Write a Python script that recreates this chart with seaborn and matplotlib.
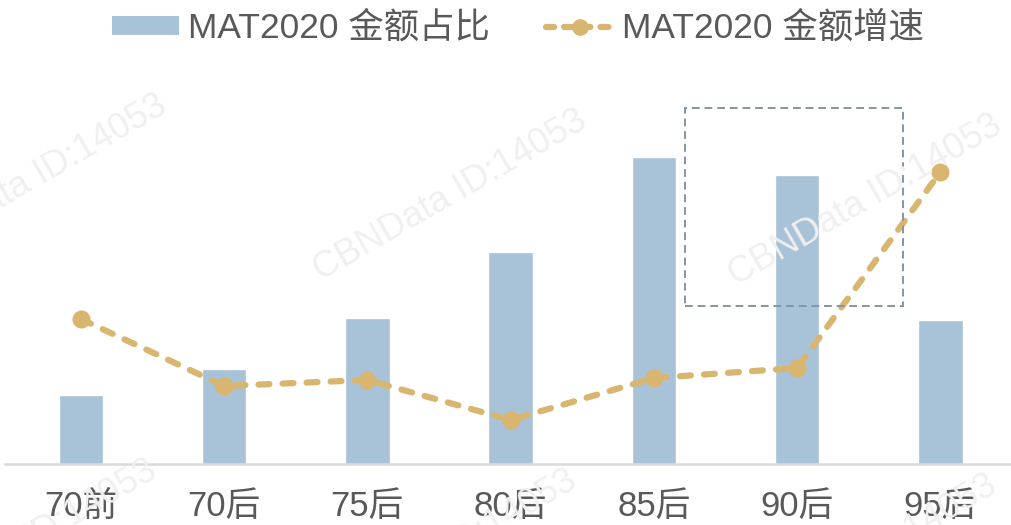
import numpy as np
import pandas as pd
import matplotlib
matplotlib.use('Agg')
import matplotlib.pyplot as plt
import seaborn as sns
from matplotlib.patches import Rectangle, Patch
from matplotlib.lines import Line2D

# 데이터 (그림에서 읽은 값, y축 눈금이 없어서 상대값)
groups = ['70前', '70后', '75后', '80后', '85后', '90后', '95后']
share = [69, 95, 146, 212, 307, 289, 144]      # MAT2020 金额占比
growth = [145, 78, 84, 44, 86, 96, 292]        # MAT2020 金额增速

bar_color = '#a8c2d8'
line_color = '#d9b66f'
text_color = '#595959'

sns.set_theme(style='white')
plt.rcParams['font.family'] = ['Liberation Sans', 'Noto Sans CJK SC', 'DejaVu Sans']

df = pd.DataFrame({'group': groups, 'share': share, 'growth': growth})

fig = plt.figure(figsize=(10.12, 5.25), dpi=100)
ax = fig.add_axes([5 / 1012, 61 / 525, 1007 / 1012, 404 / 525])

# 워터마크 (흐리게)
for x, y in [(30, 180), (450, 195), (865, 200), (20, 545), (440, 555), (860, 560)]:
    fig.text(x / 1012, 1 - y / 525, 'CBNData ID:14053', rotation=30, fontsize=26,
             color='#f0f0f0', ha='center', va='center', zorder=0)

# 막대
sns.barplot(data=df, x='group', y='share', color=bar_color, width=0.31,
            saturation=1, ax=ax, zorder=2)

# 점선 + 점
sns.pointplot(data=df, x='group', y='growth', color=line_color, errorbar=None,
              marker='o', ax=ax, zorder=3)
# pointplot 선 찾아서 스타일 바꾸기 (ax.lines[-1] 은 안 먹힘)
for ln in ax.lines:
    if len(ln.get_xdata()) == len(groups):
        ln.set_linewidth(4.5)
        ln.set_markersize(11)
        ln.set_linestyle((0, (1.75, 2.1)))
        ln.set_dash_capstyle('round')

ax.set_xlim(-0.53, 6.5)
ax.set_ylim(0, 404)
ax.set_xlabel('')
ax.set_ylabel('')
ax.set_yticks([])
ax.patch.set_alpha(0)
sns.despine(ax=ax, left=True, top=True, right=True)
ax.spines['bottom'].set_color('#d9d9d9')
ax.spines['bottom'].set_linewidth(1.8)
ax.tick_params(axis='x', length=0, pad=19, labelsize=25, labelcolor=text_color)

# 점선 박스 (90后 강조)
ax.add_patch(Rectangle((4.22, 158), 1.52, 198, fill=False, ls=(0, (4, 2.5)),
                       lw=1.4, ec='#8395a6', zorder=4, clip_on=False))

# 범례
handles = [Patch(facecolor=bar_color, edgecolor='none'),
           Line2D([], [], color=line_color, lw=4.5, ls=(0, (1.3, 1.6)), marker='o',
                  markersize=11, dash_capstyle='round')]
fig.legend(handles, ['MAT2020 金额占比', 'MAT2020 金额增速'], loc='center',
           bbox_to_anchor=(518 / 1012, 1 - 28 / 525), ncol=2, frameon=False,
           fontsize=25.5, labelcolor=text_color, handlelength=1.9, handleheight=0.45,
           handletextpad=0.25, columnspacing=1.6)

plt.savefig('out.png', dpi=100)
